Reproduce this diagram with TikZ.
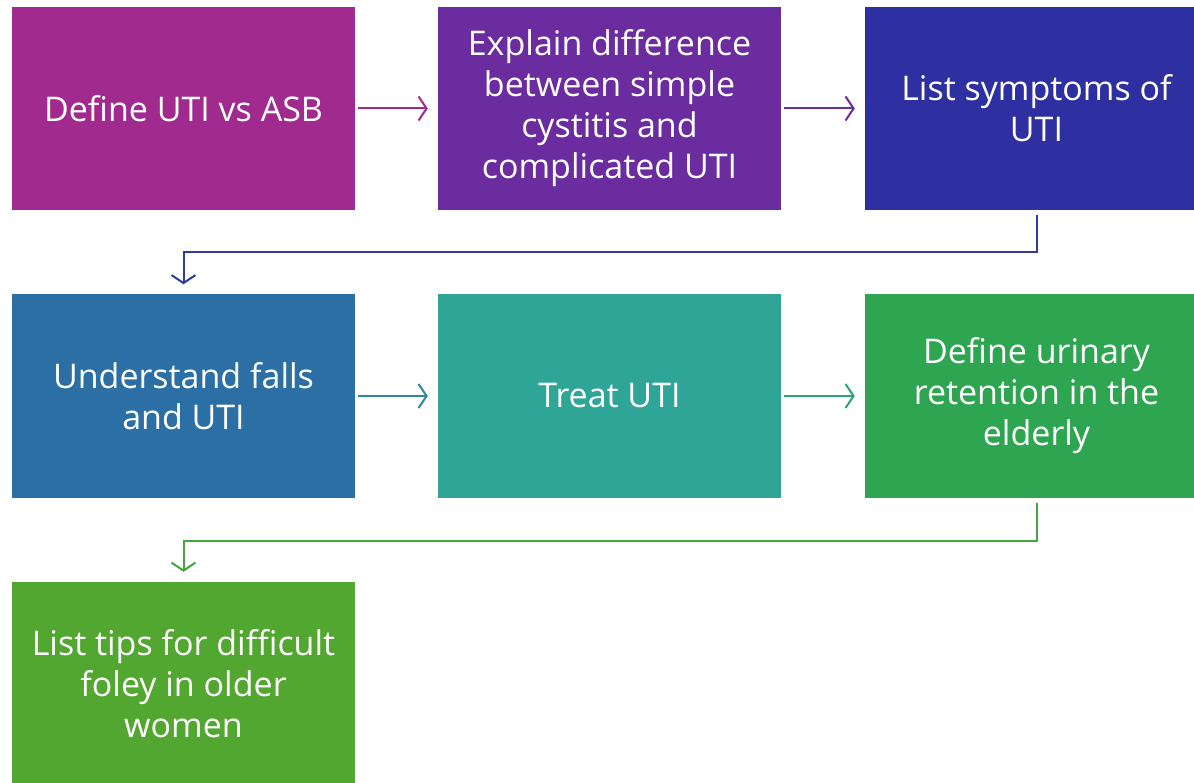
\documentclass[tikz,border=0pt]{standalone}
\usepackage{fontspec}
\setmainfont{Open Sans}
\usetikzlibrary{arrows.meta}
\usepackage{xcolor}
\definecolor{stepA}{HTML}{A02A8E}
\definecolor{stepB}{HTML}{6B2C9F}
\definecolor{stepC}{HTML}{2E2FA0}
\definecolor{stepD}{HTML}{2B6FA4}
\definecolor{stepE}{HTML}{2EA597}
\definecolor{stepF}{HTML}{2EA651}
\definecolor{stepG}{HTML}{52A731}

\begin{document}
\begin{tikzpicture}[x=1pt, y=-1pt, >={Straight Barb[length=8pt, width=24pt]},
  topic/.style={rectangle, minimum width=343pt, minimum height=203pt, inner sep=0pt, align=center, text=white, font=\fontsize{34}{41}\selectfont},
  link/.style={->, line width=2pt}
]
\useasboundingbox (0,0) rectangle (1194,783);
\clip (0,0) rectangle (1194,783);
\node[topic, fill=stepA] (t1) at (183.5,108.5) {Define UTI vs ASB};
\node[topic, fill=stepB] (t2) at (609.5,108.5) {Explain difference\\between simple\\cystitis and\\complicated UTI};
\node[topic, fill=stepC] (t3) at (1036.5,108.5) {List symptoms of\\UTI};
\node[topic, fill=stepD] (t4) at (183.5,396) {Understand falls\\and UTI};
\node[topic, fill=stepE] (t5) at (609.5,396) {Treat UTI};
\node[topic, fill=stepF] (t6) at (1036.5,396) {Define urinary\\retention in the\\elderly};
\node[topic, fill=stepG] (t7) at (183.5,683.5) {List tips for difficult\\foley in older\\women};
\draw[link, draw=stepA] ([xshift=3pt]t1.east) -- ([xshift=-10pt]t2.west);
\draw[link, draw=stepB] ([xshift=3pt]t2.east) -- ([xshift=-10pt]t3.west);
\draw[link, draw=stepC!80!stepD] ([yshift=-5pt]t3.south) -- ++(0,37) -| ([yshift=10pt]t4.north);
\draw[link, draw=stepD!50!stepE] ([xshift=3pt]t4.east) -- ([xshift=-10pt]t5.west);
\draw[link, draw=stepE!50!stepF] ([xshift=3pt]t5.east) -- ([xshift=-10pt]t6.west);
\draw[link, draw=stepF!40!stepG] ([yshift=-5pt]t6.south) -- ++(0,38) -| ([yshift=10pt]t7.north);
\end{tikzpicture}
\end{document}
